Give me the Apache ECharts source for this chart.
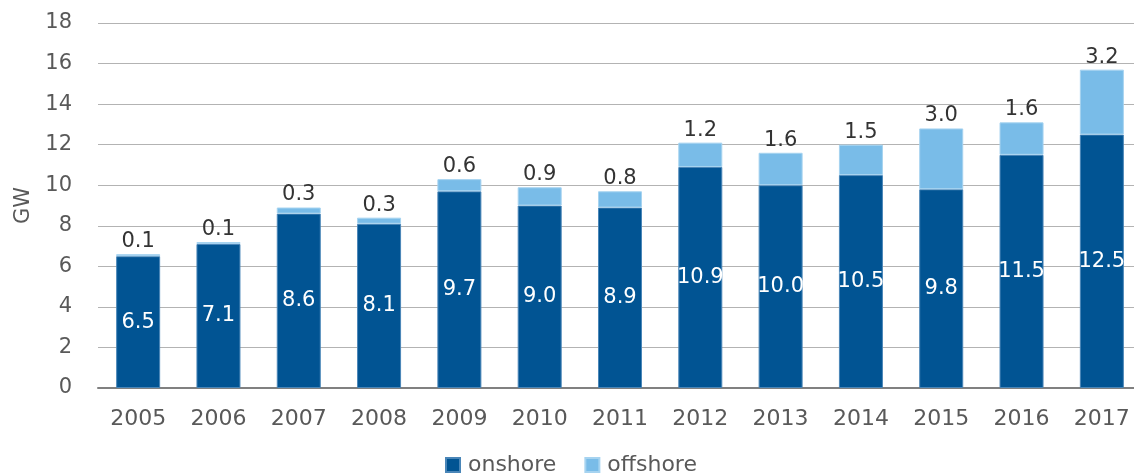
<!DOCTYPE html>
<html><head><meta charset="utf-8">
<script src="https://cdn.jsdelivr.net/npm/echarts@6/dist/echarts.min.js"></script>
<style>html,body{margin:0;padding:0;background:#fff;overflow:hidden;width:1134px;height:475px}#c{width:1142px;height:475px}</style>
</head><body><div id="c"></div>
<script>
const years = ['2005','2006','2007','2008','2009','2010','2011','2012','2013','2014','2015','2016','2017'];
const onshore = [6.5, 7.1, 8.6, 8.1, 9.7, 9.0, 8.9, 10.9, 10.0, 10.5, 9.8, 11.5, 12.5];
const offshore = [0.1, 0.1, 0.3, 0.3, 0.6, 0.9, 0.8, 1.2, 1.6, 1.5, 3.0, 1.6, 3.2];
const FONT = 'DejaVu Sans';
const chart = echarts.init(document.getElementById('c'), null, {renderer: 'canvas'});
chart.setOption({
  animation: false,
  textStyle: {fontFamily: FONT},
  grid: {left: 98, top: 23, width: 1044, height: 365, containLabel: false},
  legend: {
    top: 449, left: 440, itemWidth: 14, itemHeight: 14, itemGap: 28,
    icon: 'rect',
    textStyle: {fontFamily: FONT, fontSize: 22, color: '#595959', padding: [0, 0, 0, 3]},
    data: ['onshore', 'offshore']
  },
  xAxis: {
    type: 'category', data: years,
    axisLine: {lineStyle: {color: '#808080', width: 2}},
    axisTick: {show: false},
    axisLabel: {fontFamily: FONT, fontSize: 22, color: '#595959', margin: 20}
  },
  yAxis: {
    type: 'value', min: 0, max: 18, interval: 2,
    name: 'GW', nameLocation: 'middle', nameGap: 64,
    nameTextStyle: {fontFamily: FONT, fontSize: 21, color: '#595959'},
    axisLine: {show: false}, axisTick: {show: false},
    axisLabel: {fontFamily: FONT, fontSize: 21, color: '#595959', margin: 26},
    splitLine: {lineStyle: {color: '#b3b3b3', width: 1}}
  },
  series: [
    {
      name: 'onshore', type: 'bar', stack: 'total', data: onshore, barWidth: 44,
      itemStyle: {color: '#015493', borderColor: '#4a86b8', borderWidth: 1},
      label: {show: true, position: 'inside', color: '#ffffff', fontFamily: FONT, fontSize: 21,
        formatter: p => p.value.toFixed(1)}
    },
    {
      name: 'offshore', type: 'bar', stack: 'total', data: offshore, barWidth: 44,
      itemStyle: {color: '#79bce8', borderColor: '#a6d3f0', borderWidth: 1},
      label: {show: true, position: 'top', distance: 2, color: '#333333', fontFamily: FONT, fontSize: 21,
        formatter: p => p.value.toFixed(1)}
    }
  ]
});
</script></body></html>
